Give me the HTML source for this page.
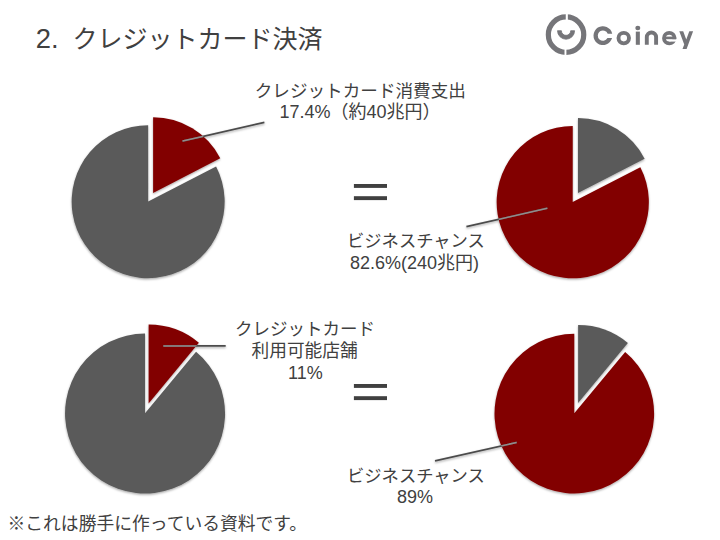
<!DOCTYPE html>
<html lang="ja">
<head>
<meta charset="utf-8">
<title>2. クレジットカード決済</title>
<style>
html,body{margin:0;padding:0;background:#fff;}
body{width:720px;height:540px;position:relative;overflow:hidden;font-family:"Liberation Sans",sans-serif;}
svg{position:absolute;left:0;top:0;display:block;}
svg text{font-family:"Liberation Sans","Noto Sans CJK JP",sans-serif;fill:#404040;}
.t{position:absolute;margin:0;white-space:nowrap;color:transparent;font-weight:normal;line-height:1.2;font-size:18px;}
.c{text-align:center;}
</style>
</head>
<body>
<svg width="720" height="540" viewBox="0 0 720 540">
<defs><filter id="sh" x="-5%" y="-5%" width="110%" height="110%"><feDropShadow dx="0" dy="1.2" stdDeviation="0.9" flood-color="#000" flood-opacity="0.35"/></filter></defs>
<rect width="720" height="540" fill="#fff"/>
<defs><clipPath id="pc"><path d="M148.2 201.4L216.09 166.54A76.5 76.5 0 1 1 148.15 125.2ZM153.1 192.9L153.1 117.3A75.6 75.6 0 0 1 220.24 158.16ZM572.7 201.9L640.34 167.23A76.1 76.1 0 1 1 572.75 126.1ZM578 193.1L578 118.1A75 75 0 0 1 644.61 158.63ZM145.05 413.2L196.04 351.86A80 80 0 1 1 145.05 333.5ZM148.6 403.5L148.6 324.6A78.9 78.9 0 0 1 198.89 342.71ZM574.3 413.3L625.17 352.11A79.8 79.8 0 1 1 574.3 333.8ZM578.1 403.1L578.1 325A78.1 78.1 0 0 1 627.88 342.92Z"/></clipPath></defs>
<g filter="url(#sh)">
<path fill="#5a5a5a" d="M148.2 201.4L216.09 166.54A76.5 76.5 0 1 1 148.15 125.2Z"/>
<path fill="#820000" d="M153.1 192.9L153.1 117.3A75.6 75.6 0 0 1 220.24 158.16Z"/>
<path fill="#820000" d="M572.7 201.9L640.34 167.23A76.1 76.1 0 1 1 572.75 126.1Z"/>
<path fill="#5a5a5a" d="M578 193.1L578 118.1A75 75 0 0 1 644.61 158.63Z"/>
<path fill="#5a5a5a" d="M145.05 413.2L196.04 351.86A80 80 0 1 1 145.05 333.5Z"/>
<path fill="#820000" d="M148.6 403.5L148.6 324.6A78.9 78.9 0 0 1 198.89 342.71Z"/>
<path fill="#820000" d="M574.3 413.3L625.17 352.11A79.8 79.8 0 1 1 574.3 333.8Z"/>
<path fill="#5a5a5a" d="M578.1 403.1L578.1 325A78.1 78.1 0 0 1 627.88 342.92Z"/>
<path d="M182.5 141.1L264.4 122.4M547.4 208.2L466.4 226.7M163.3 345.9L225.7 345.9M516.7 442.4L435 460.8" stroke="#4c4c4c" stroke-width="1.7" fill="none"/>
</g>
<path d="M182.5 141.1L264.4 122.4M547.4 208.2L466.4 226.7M163.3 345.9L225.7 345.9M516.7 442.4L435 460.8" stroke="#968a8a" stroke-width="1.5" fill="none" clip-path="url(#pc)"/>
<g fill="#404040"><rect x="353.9" y="184" width="33.1" height="3.9"/><rect x="353.9" y="196.2" width="33.1" height="3.9"/><rect x="353.9" y="384" width="33.1" height="3.9"/><rect x="353.9" y="396.2" width="33.1" height="3.9"/></g>
<circle cx="566.05" cy="34.65" r="17.7" fill="none" stroke="#757579" stroke-width="5.2"/><path fill="#fff" d="M565.75 13h2.1v8.5h-2.1zM564.5 48h1.9v8.5h-1.9z"/><path fill="#757579" stroke="#757579" stroke-width="0.8" stroke-linejoin="round" d="M557.5 30.7A8.55 8.55 0 0 0 574.6 30.7H570.7A4.65 4.65 0 0 1 561.4 30.7Z"/>
<g fill="#757579"><path d="M612.21 33.7A9.45 9.45 0 1 0 612.06 38.1L607.45 38.1A5.15 5.15 0 1 1 607.74 33.7Z"/><path fill-rule="evenodd" d="M662.1 38.15a7.15 7.15 0 1 0 14.3 0a7.15 7.15 0 1 0 -14.3 0zM665.95 38.15a3.3 3.3 0 1 0 6.6 0a3.3 3.3 0 1 0 -6.6 0z"/><rect x="669.25" y="39.2" width="8" height="2.4" fill="#fff"/><rect x="664" y="36.6" width="12.2" height="2.6"/><ellipse cx="637.8" cy="28.1" rx="2.5" ry="2.25"/></g><g fill="none" stroke="#757579" stroke-width="3.9" stroke-linecap="butt"><circle cx="623.75" cy="38.1" r="5.25"/><path stroke-width="4.05" d="M637.83 31.6V44.8"/><path d="M646.8 44.8V37.1A4.65 4.65 0 0 1 656.1 37.1V44.8"/><path stroke="none" fill="#757579" d="M679.3 31.3H683.2L686.25 39.4L689.3 31.3H693.1L686.6 49.1H682.5L684.22 44.6Z"/></g>
<text x="35.8" y="48.2" font-size="27.4">2.</text>
<text x="72.5" y="48.2" font-size="25">クレジットカード決済</text>
<text x="360.3" y="96.5" font-size="17.6" text-anchor="middle">クレジットカード消費支出</text>
<text x="360" y="118.1" font-size="18" text-anchor="middle">17.4%（約40兆円）</text>
<text x="415.9" y="247.4" font-size="17.3" text-anchor="middle">ビジネスチャンス</text>
<text x="414.5" y="269" font-size="18" text-anchor="middle">82.6%(240兆円)</text>
<text x="305" y="335.3" font-size="17.5" text-anchor="middle">クレジットカード</text>
<text x="304.6" y="356.9" font-size="17.7" text-anchor="middle">利用可能店舗</text>
<text x="305.4" y="378.5" font-size="18" text-anchor="middle">11%</text>
<text x="415.9" y="481.7" font-size="17.3" text-anchor="middle">ビジネスチャンス</text>
<text x="415" y="503.3" font-size="18" text-anchor="middle">89%</text>
<text x="7.5" y="529.5" font-size="17.8">※これは勝手に作っている資料です。</text>
</svg>
<h1 class="t" style="left:36px;top:22px;font-size:28px;">2. クレジットカード決済</h1>
<div class="t" style="left:593px;top:22px;font-size:24px;">Coiney</div>
<div class="t c" style="left:250px;top:78px;font-size:18px;width:220px;">クレジットカード消費支出<br>17.4%（約40兆円）</div>
<div class="t" style="left:354px;top:170px;font-size:40px;">=</div>
<div class="t c" style="left:340px;top:230px;font-size:18px;width:150px;">ビジネスチャンス<br>82.6%(240兆円)</div>
<div class="t c" style="left:230px;top:317px;font-size:18px;width:150px;">クレジットカード<br>利用可能店舗<br>11%</div>
<div class="t" style="left:354px;top:370px;font-size:40px;">=</div>
<div class="t c" style="left:340px;top:464px;font-size:18px;width:150px;">ビジネスチャンス<br>89%</div>
<div class="t" style="left:8px;top:511px;font-size:18px;">※これは勝手に作っている資料です。</div>
</body>
</html>
